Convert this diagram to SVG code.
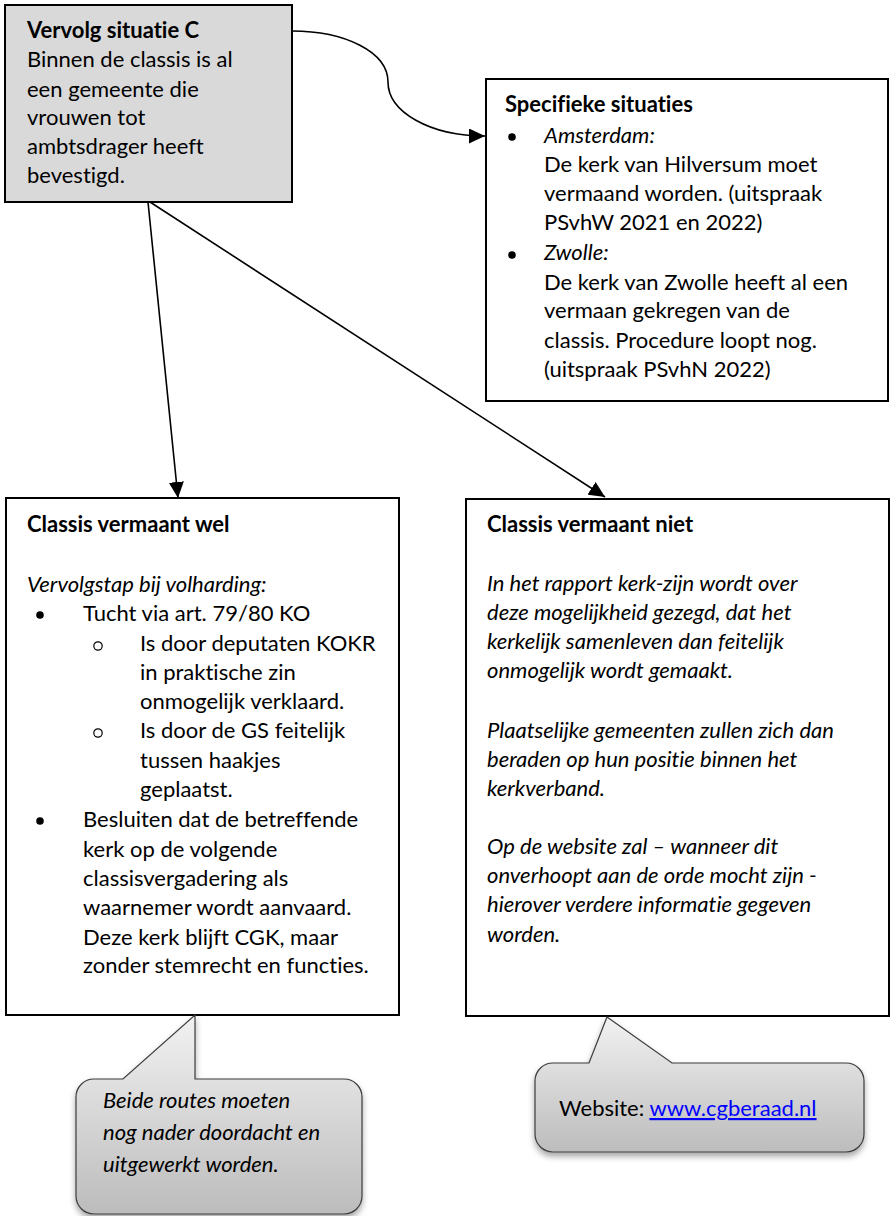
<svg xmlns="http://www.w3.org/2000/svg" width="890" height="1216" viewBox="0 0 890 1216">
<style>
  .t { font-family: Lato, "Open Sans", "Liberation Sans", sans-serif; font-size: 22px; fill: #000; font-variant-ligatures: none; font-feature-settings: "liga" 0, "clig" 0; }
  .b { font-weight: bold; }
  .i { font-style: italic; }
  .box { fill: #fff; stroke: #000; stroke-width: 2; }
  .grey { fill: #d9d9d9; }
  .conn { fill: none; stroke: #000; stroke-width: 1.6; }
  .call { fill: url(#cg); stroke: #3c3c3c; stroke-width: 1.2; filter: url(#sh); }
  .link { fill: #0000ff; text-decoration: underline; }
</style>
<defs>
  <marker id="arr" markerUnits="userSpaceOnUse" markerWidth="17" markerHeight="15" refX="16" refY="7.5" orient="auto">
    <path d="M0,0 L16,7.5 L0,15 z" fill="#000"/>
  </marker>
  <linearGradient id="cg" x1="0" y1="0" x2="0" y2="1">
    <stop offset="0" stop-color="#f2f2f2"/>
    <stop offset="1" stop-color="#bcbcbc"/>
  </linearGradient>
  <filter id="sh" x="-10%" y="-10%" width="130%" height="130%">
    <feDropShadow dx="0" dy="4" stdDeviation="3" flood-color="#000" flood-opacity="0.35"/>
  </filter>
</defs>

<g id="connectors">
  <path class="conn" d="M292,31 C345,31 388,52 388,82 C388,112 430,136 485,136" marker-end="url(#arr)"/>
  <line class="conn" x1="148" y1="202" x2="178" y2="498" marker-end="url(#arr)"/>
  <line class="conn" x1="150" y1="202" x2="605" y2="497" marker-end="url(#arr)"/>
</g>

<g id="node-situatie-c">
  <rect class="box grey" x="5" y="5" width="287" height="197"/>
  <text class="t b" x="27" y="38">Vervolg situatie C</text>
  <text class="t" x="27" y="67">Binnen de classis is al</text>
  <text class="t" x="27" y="97">een gemeente die</text>
  <text class="t" x="27" y="125">vrouwen tot</text>
  <text class="t" x="27" y="154">ambtsdrager heeft</text>
  <text class="t" x="27" y="183">bevestigd.</text>
</g>

<g id="node-specifieke">
  <rect class="box" x="486" y="79" width="402" height="322"/>
  <text class="t b" x="505" y="112">Specifieke situaties</text>
  <circle cx="512" cy="137" r="3.8"/>
  <text class="t i" x="544" y="143">Amsterdam:</text>
  <text class="t" x="544" y="172">De kerk van Hilversum moet</text>
  <text class="t" x="544" y="201">vermaand worden. (uitspraak</text>
  <text class="t" x="544" y="230">PSvhW 2021 en 2022)</text>
  <circle cx="512" cy="255" r="3.8"/>
  <text class="t i" x="544" y="260">Zwolle:</text>
  <text class="t" x="544" y="290">De kerk van Zwolle heeft al een</text>
  <text class="t" x="544" y="318">vermaan gekregen van de</text>
  <text class="t" x="544" y="348">classis. Procedure loopt nog.</text>
  <text class="t" x="544" y="377">(uitspraak PSvhN 2022)</text>
</g>

<g id="node-vermaant-wel">
  <rect class="box" x="6" y="498" width="393" height="517"/>
  <text class="t b" x="27" y="532">Classis vermaant wel</text>
  <text class="t i" x="27" y="592">Vervolgstap bij volharding:</text>
  <circle cx="40" cy="615" r="3.8"/>
  <text class="t" x="83" y="621">Tucht via art. 79/80 KO</text>
  <circle cx="98" cy="646" r="4.2" fill="none" stroke="#000" stroke-width="1.2"/>
  <text class="t" x="140" y="651">Is door deputaten KOKR</text>
  <text class="t" x="140" y="680">in praktische zin</text>
  <text class="t" x="140" y="709">onmogelijk verklaard.</text>
  <circle cx="98" cy="733" r="4.2" fill="none" stroke="#000" stroke-width="1.2"/>
  <text class="t" x="140" y="738">Is door de GS feitelijk</text>
  <text class="t" x="140" y="768">tussen haakjes</text>
  <text class="t" x="140" y="797">geplaatst.</text>
  <circle cx="40" cy="821" r="3.8"/>
  <text class="t" x="83" y="827">Besluiten dat de betreffende</text>
  <text class="t" x="83" y="857">kerk op de volgende</text>
  <text class="t" x="83" y="886">classisvergadering als</text>
  <text class="t" x="83" y="915">waarnemer wordt aanvaard.</text>
  <text class="t" x="83" y="945">Deze kerk blijft CGK, maar</text>
  <text class="t" x="83" y="973">zonder stemrecht en functies.</text>
</g>

<g id="node-vermaant-niet">
  <rect class="box" x="466" y="499" width="423" height="517"/>
  <text class="t b" x="487" y="532">Classis vermaant niet</text>
  <text class="t i" x="487" y="591">In het rapport kerk-zijn wordt over</text>
  <text class="t i" x="487" y="620">deze mogelijkheid gezegd, dat het</text>
  <text class="t i" x="487" y="649">kerkelijk samenleven dan feitelijk</text>
  <text class="t i" x="487" y="678">onmogelijk wordt gemaakt.</text>
  <text class="t i" x="487" y="738">Plaatselijke gemeenten zullen zich dan</text>
  <text class="t i" x="487" y="767">beraden op hun positie binnen het</text>
  <text class="t i" x="487" y="796">kerkverband.</text>
  <text class="t i" x="487" y="854">Op de website zal – wanneer dit</text>
  <text class="t i" x="487" y="883">onverhoopt aan de orde mocht zijn -</text>
  <text class="t i" x="487" y="912">hierover verdere informatie gegeven</text>
  <text class="t i" x="487" y="942">worden.</text>
</g>

<g id="callout-routes">
  <path class="call" d="M195,1015 L195,1079 L344,1079 A18,18 0 0 1 362,1097 L362,1196 A18,18 0 0 1 344,1214 L94,1214 A18,18 0 0 1 76,1196 L76,1097 A18,18 0 0 1 94,1079 L123,1079 Z"/>
  <text class="t i" x="103" y="1108">Beide routes moeten</text>
  <text class="t i" x="103" y="1140">nog nader doordacht en</text>
  <text class="t i" x="103" y="1172">uitgewerkt worden.</text>
</g>

<g id="callout-website">
  <path class="call" d="M607,1017 L672,1063 L846,1063 A18,18 0 0 1 864,1081 L864,1134 A18,18 0 0 1 846,1152 L553,1152 A18,18 0 0 1 535,1134 L535,1081 A18,18 0 0 1 553,1063 L589,1063 Z"/>
  <text class="t" x="559" y="1116">Website: <tspan class="link">www.cgberaad.nl</tspan></text>
</g>
</svg>
